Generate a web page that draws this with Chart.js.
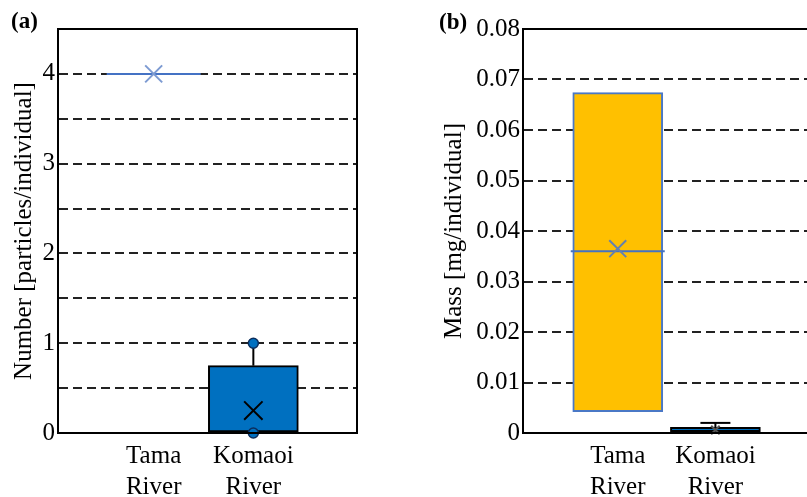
<!DOCTYPE html>
<html>
<head>
<meta charset="utf-8">
<script src="https://cdn.jsdelivr.net/npm/chart.js@4"></script>
<style>
    body { margin: 0; width: 807px; height: 497px; overflow: hidden; background: #fff; position: relative; font-family: 'Liberation Serif', serif; }
    canvas { position: absolute; top: 0; }
    #chartA { left: 0; }
    #chartB { left: 420px; }
    .tag { position: absolute; font-weight: bold; font-size: 23px; }
</style>
</head>
<body>
<canvas id="chartA" width="380" height="497"></canvas>
<canvas id="chartB" width="396" height="497"></canvas>
<div class="tag" style="left:11px; top:8px;">(a)</div>
<div class="tag" style="left:439px; top:9px;">(b)</div>
<script>
const categories = [['Tama', 'River'], ['Komaoi', 'River']];

// (a) number of particles per individual
const countQ1 = [4, 0];
const countQ3 = [4, 0.75];
const countMedian = [4, 0];
const countMean = [4, 0.25];
const countMax = [4, 1];
const countPoints = [[], [0, 1]];

// (b) mass per individual
const massQ1 = [0.0042, 0];
const massQ3 = [0.0674, 0.0011];
const massMedian = [0.036, 0.0004];
const massMean = [0.0365, 0.0006];
const massMax = [0.0674, 0.002];

const frame = {
    id: 'frame',
    afterDraw(chart) {
        let a = chart.chartArea;
        let ctx = chart.ctx;
        ctx.save();
        ctx.strokeStyle = '#000';
        ctx.lineWidth = 2;
        ctx.strokeRect(a.left, a.top, a.right - a.left, a.bottom - a.top);
        ctx.restore();
    }
};

function createBoxChart(id, opts) {
    let datasets = [];
    // boxes
    datasets.push({
        type: 'bar',
        data: opts.q1.map((v, i) => ({x: i + 1, y: [v, opts.q3[i]]})),
        backgroundColor: opts.fill,
        borderColor: opts.edge,
        borderWidth: 2,
        borderSkipped: false,
        barThickness: 90,
        grouped: false,
        order: 5
    });
    // whiskers and caps, only where the max is above the box
    let caps = [];
    opts.max.forEach((v, i) => {
        if (v > opts.q3[i]) {
            datasets.push({
                type: 'line',
                data: [{x: i + 1, y: opts.q3[i]}, {x: i + 1, y: v}],
                borderColor: '#000',
                borderWidth: 2,
                pointRadius: 0,
                order: 4
            });
            caps.push({x: i + 1, y: v});
        }
    });
    if (opts.cap) {
        datasets.push({
            type: 'line',
            showLine: false,
            data: caps,
            pointStyle: 'line',
            pointRadius: opts.cap,
            pointBorderColor: '#000',
            pointBorderWidth: 2,
            clip: false,
            order: 3
        });
    }
    // medians
    datasets.push({
        type: 'line',
        showLine: false,
        data: opts.median.map((v, i) => ({x: i + 1, y: v})),
        pointStyle: 'line',
        pointRadius: [47, 44],
        pointBorderColor: opts.medianColor,
        pointBorderWidth: 2,
        clip: false,
        order: 2
    });
    // single values
    if (opts.points) {
        let pts = [];
        opts.points.forEach((list, i) => list.forEach(v => pts.push({x: i + 1, y: v})));
        datasets.push({
            type: 'line',
            showLine: false,
            data: pts,
            pointStyle: 'circle',
            pointRadius: 5,
            pointBackgroundColor: '#0070C0',
            pointBorderColor: '#0b2d5c',
            pointBorderWidth: 1.5,
            clip: false,
            order: 1
        });
    }
    // means
    datasets.push({
        type: 'line',
        showLine: false,
        data: opts.mean.map((v, i) => ({x: i + 1, y: v})),
        pointStyle: 'crossRot',
        pointRadius: opts.meanRadius,
        pointBorderColor: opts.meanColor,
        pointBorderWidth: 2,
        clip: false,
        order: 0
    });

    let ctx = document.getElementById(id).getContext('2d');
    return new Chart(ctx, {
        type: 'bar',
        data: { datasets: datasets },
        plugins: [frame],
        options: {
            responsive: false,
            animation: false,
            layout: { autoPadding: false, padding: { top: 29, right: opts.padRight, bottom: 0, left: 0 } },
            plugins: { legend: { display: false }, tooltip: { enabled: false } },
            scales: {
                x: {
                    type: 'linear',
                    min: opts.xMin,
                    max: opts.xMin + 3,
                    offset: false,
                    afterFit: s => { s.height = 64; },
                    afterBuildTicks: s => { s.ticks = categories.map((c, i) => ({value: i + 1})); },
                    grid: { display: false, offset: false },
                    border: { display: true, color: '#000', width: 2 },
                    ticks: {
                        padding: 0,
                        color: '#000',
                        font: { family: 'Liberation Serif', size: 25, lineHeight: 1.25 },
                        maxRotation: 0,
                        autoSkip: false,
                        callback: v => categories[v - 1] || ''
                    }
                },
                y: {
                    min: 0,
                    max: opts.yMax,
                    afterFit: s => { s.width = opts.axisWidth; },
                    grid: { color: '#222', lineWidth: 2, drawTicks: false },
                    border: { display: true, color: '#000', width: 2, dash: [9, 5] },
                    title: {
                        display: true,
                        text: opts.title,
                        color: '#000',
                        font: { family: 'Liberation Serif', size: 25, lineHeight: 1.2 },
                        padding: { top: opts.titlePad, bottom: 0 }
                    },
                    ticks: {
                        stepSize: opts.step,
                        padding: 3,
                        color: '#000',
                        font: { family: 'Liberation Serif', size: 25 },
                        callback: opts.tickLabel
                    }
                }
            }
        }
    });
}

createBoxChart('chartA', {
    q1: countQ1, q3: countQ3, median: countMedian, mean: countMean, max: countMax,
    points: countPoints,
    fill: ['#0070C0', '#0070C0'],
    edge: ['#4472C4', '#000'],
    medianColor: ['#4472C4', '#000'],
    meanColor: ['#7d9bd2', '#000'],
    meanRadius: [12, 13],
    yMax: 4.5, step: 0.5,
    tickLabel: v => Number.isInteger(v) ? String(v) : '',
    title: 'Number [particles/individual]',
    axisWidth: 58, titlePad: 9, padRight: 23, xMin: 0.04
});

createBoxChart('chartB', {
    q1: massQ1, q3: massQ3, median: massMedian, mean: massMean, max: massMax,
    cap: 15,
    fill: ['#FFC000', '#0070C0'],
    edge: ['#4a78c6', '#000'],
    medianColor: ['#4472C4', '#000'],
    meanColor: ['#6580ae', '#555'],
    meanRadius: [12, 6],
    yMax: 0.08, step: 0.01,
    tickLabel: v => v === 0 ? '0' : v.toFixed(2),
    title: 'Mass [mg/individual]',
    axisWidth: 103, titlePad: 19, padRight: 0, xMin: 0.03
});
</script>
</body>
</html>
